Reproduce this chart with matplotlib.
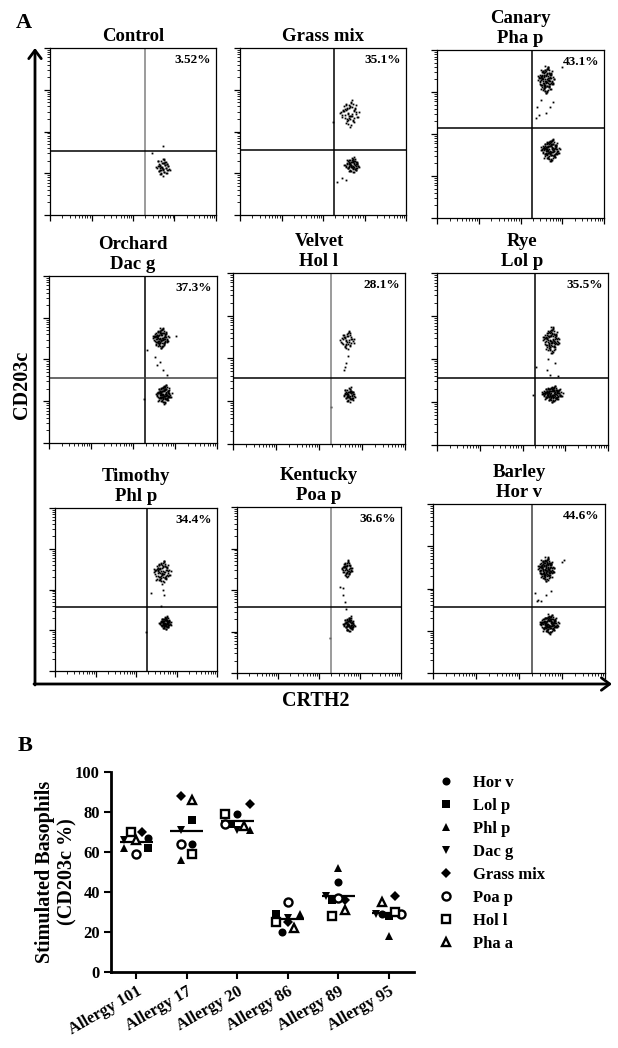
import numpy as np
import matplotlib
matplotlib.use("Agg")
import matplotlib.pyplot as plt
from matplotlib.lines import Line2D

plt.rcParams['font.family'] = ['Liberation Serif', 'DejaVu Serif']
plt.rcParams['font.weight'] = 'bold'
plt.rcParams['axes.labelweight'] = 'bold'
plt.rcParams['axes.titleweight'] = 'bold'

# ---- panel A: flow plots (axes in decades, 0..4) ----
panel_titles = ["Control", "Grass mix", "Canary\nPha p",
                "Orchard\nDac g", "Velvet\nHol l", "Rye\nLol p",
                "Timothy\nPhl p", "Kentucky\nPoa p", "Barley\nHor v"]
panel_pcts = ["3.52%", "35.1%", "43.1%", "37.3%", "28.1%", "35.5%",
              "34.4%", "36.6%", "44.6%"]
gate_x = [2.29, 2.27, 2.28, 2.29, 2.28, 2.29, 2.27, 2.29, 2.30]
gate_y = [1.53, 1.56, 2.14, 1.56, 1.54, 1.56, 1.57, 1.59, 1.56]

# CD203c-high cluster (centre, spread, number of events)
upper_cx = [2.70, 2.63, 2.61, 2.66, 2.65, 2.67, 2.64, 2.68, 2.63]
upper_cy = [2.50, 2.44, 3.29, 2.51, 2.43, 2.44, 2.43, 2.51, 2.46]
upper_sx = [0.10, 0.12, 0.10, 0.10, 0.09, 0.10, 0.11, 0.07, 0.10]
upper_sy = [0.10, 0.17, 0.17, 0.13, 0.12, 0.16, 0.15, 0.11, 0.15]
upper_n = [0, 55, 120, 100, 40, 100, 80, 50, 140]
# CD203c-low cluster
lower_cx = [2.72, 2.70, 2.71, 2.73, 2.70, 2.69, 2.72, 2.73, 2.70]
lower_cy = [1.15, 1.20, 1.62, 1.17, 1.15, 1.19, 1.18, 1.18, 1.16]
lower_sx = [0.10, 0.10, 0.12, 0.10, 0.08, 0.13, 0.08, 0.08, 0.12]
lower_sy = [0.13, 0.10, 0.14, 0.12, 0.10, 0.10, 0.09, 0.10, 0.12]
lower_n = [50, 70, 130, 110, 55, 130, 80, 70, 140]

# stray events
tail_x = [[2.72, 2.46],
          [2.34, 2.46, 2.24, 2.55],
          [2.40, 2.38, 2.61, 2.49, 2.78, 3.00, 2.71, 2.45],
          [2.57, 2.71, 2.81, 2.52, 2.33, 3.02, 2.26, 2.65],
          [2.63, 2.58, 2.60, 2.28, 2.68],
          [2.57, 2.64, 2.32, 2.83, 2.76, 2.25, 2.60],
          [2.69, 2.37, 2.62, 2.25, 2.66],
          [2.51, 2.58, 2.59, 2.63, 2.66, 2.27],
          [3.05, 3.00, 2.37, 2.42, 2.51, 2.63, 2.74, 2.45]]
tail_y = [[1.65, 1.49],
          [0.79, 0.89, 2.23, 0.85],
          [2.64, 2.38, 2.50, 2.81, 2.76, 3.60, 2.64, 2.45],
          [1.87, 1.75, 1.63, 2.06, 2.23, 2.56, 1.05, 1.95],
          [1.89, 1.73, 1.80, 0.87, 2.05],
          [1.74, 1.63, 1.81, 1.60, 1.90, 1.16, 2.00],
          [1.86, 1.91, 1.60, 0.96, 2.00],
          [2.07, 2.05, 1.88, 1.71, 1.54, 0.84],
          [2.67, 2.63, 1.89, 1.70, 1.70, 1.85, 1.93, 1.72]]

# hand-placed cloud shape used for every cluster
cloud_dx = np.array([
    0.12, -0.85, 1.31, -0.44, 0.67, -1.52, 0.29, 0.93, -0.18, -1.07,
    1.74, -0.62, 0.05, 0.48, -1.29, 0.81, -0.33, 1.12, -0.91, 0.36,
    -0.07, 1.46, -0.58, -1.83, 0.74, 0.21, -0.26, 1.03, -0.71, 0.57,
    -1.38, 0.15, 0.89, -0.49, 1.95, -0.12, -0.97, 0.42, 0.63, -0.23,
    1.22, -1.16, 0.31, -0.66, 0.09, 1.58, -0.38, -0.81, 0.77, -1.61,
    0.26, -0.02, 1.37, -0.53, 0.98, -1.24, 0.52, -0.15, 0.69, -0.88])
cloud_dy = np.array([
    -0.34, 0.58, 0.21, -1.12, 0.93, -0.27, 1.46, -0.64, 0.08, 1.03,
    -0.49, -1.38, 0.72, 1.84, 0.36, -0.95, -0.11, 0.61, -0.73, -1.67,
    1.21, -0.18, 0.44, 0.02, 1.35, -0.82, -1.51, 0.27, 1.09, -0.41,
    -0.59, 0.87, -1.23, 0.55, 0.14, -0.68, 0.31, 1.62, -0.07, -0.96,
    0.79, 0.48, -0.37, 1.28, -1.89, -0.53, 0.66, -0.22, -1.04, 0.19,
    0.98, -0.45, 1.17, -0.76, 0.39, -1.31, 0.04, 1.41, -0.86, 0.23])

# ---- panel B: stimulated basophils ----
donors = ["Allergy 101", "Allergy 17", "Allergy 20",
          "Allergy 86", "Allergy 89", "Allergy 95"]
allergens = ["Hor v", "Lol p", "Phl p", "Dac g", "Grass mix",
             "Poa p", "Hol l", "Pha a"]
hor_v = [67, 64, 79, 20, 45, 29]
lol_p = [62, 76, 74, 29, 36, 28]
phl_p = [62, 56, 71, 29, 52, 18]
dac_g = [66, 71, 71, 27, 38, 29]
grass_mix = [70, 88, 84, 25, 36, 38]
poa_p = [59, 64, 74, 35, 37, 29]
hol_l = [70, 59, 79, 25, 28, 30]
pha_a = [66, 86, 73, 22, 31, 35]
# horizontal scatter of each symbol within its donor column
hor_v_dx = [0.24, 0.11, 0.00, -0.11, 0.00, -0.13]
lol_p_dx = [0.24, 0.11, -0.12, -0.24, -0.13, 0.00]
phl_p_dx = [-0.24, -0.12, 0.26, 0.25, 0.00, 0.00]
dac_g_dx = [-0.24, -0.12, 0.00, 0.00, -0.24, -0.26]
grass_mix_dx = [0.12, -0.12, 0.26, 0.00, 0.13, 0.12]
poa_p_dx = [0.00, -0.12, -0.24, 0.00, 0.00, 0.25]
hol_l_dx = [-0.10, 0.11, -0.24, -0.24, -0.13, 0.12]
pha_a_dx = [0.00, 0.11, 0.13, 0.12, 0.13, -0.13]

W, H = 618, 1048
fig = plt.figure(figsize=(W / 100, H / 100), dpi=100)


def px_axes(l, t, r, b):
    return fig.add_axes([l / W, 1 - b / H, (r - l) / W, (b - t) / H])


bg = fig.add_axes([0, 0, 1, 1], zorder=-1)
bg.set_xlim(0, W)
bg.set_ylim(H, 0)
bg.axis('off')

boxes = [(50, 48, 216, 215), (240, 48, 406, 215), (437, 50, 604, 218),
         (49, 276, 217, 443), (233, 273, 405, 444), (437, 273, 608, 445),
         (55, 508, 217, 671), (237, 507, 401, 673), (433, 504, 605, 673)]
vcol = ['#808080', 'k', 'k', 'k', '#808080', 'k', 'k', '#808080', '#404040']
hcol = ['k', 'k', 'k', '#404040', 'k', 'k', 'k', 'k', 'k']

ox = np.concatenate([cloud_dx, -cloud_dy, 0.85 * cloud_dy])
oy = np.concatenate([cloud_dy, cloud_dx, -0.85 * cloud_dx])
ox2, oy2 = np.roll(ox, 37), np.roll(oy, 37)

major = np.arange(5)
minor = [d + np.log10(k) for d in range(4) for k in range(2, 10)]

for i, (l, t, r, b) in enumerate(boxes):
    ax = px_axes(l, t, r, b)
    nu, nl = upper_n[i], lower_n[i]
    xs = np.concatenate([upper_cx[i] + upper_sx[i] * ox[:nu],
                         lower_cx[i] + lower_sx[i] * ox2[:nl],
                         tail_x[i]])
    ys = np.concatenate([upper_cy[i] + upper_sy[i] * oy[:nu],
                         lower_cy[i] + lower_sy[i] * oy2[:nl],
                         tail_y[i]])
    ax.plot(xs, ys, 's', ms=1.3, mew=0, color='k')
    ax.axvline(gate_x[i], color=vcol[i], lw=1.1)
    ax.axhline(gate_y[i], color=hcol[i], lw=1.1)
    ax.set_xlim(0, 4)
    ax.set_ylim(0, 4)
    ax.set_xticks(major)
    ax.set_yticks(major)
    ax.set_xticks(minor, minor=True)
    ax.set_yticks(minor, minor=True)
    ax.tick_params(labelbottom=False, labelleft=False, direction='out')
    ax.tick_params(which='major', length=4, width=0.9)
    ax.tick_params(which='minor', length=2, width=0.6)
    for s in ax.spines.values():
        s.set_linewidth(0.9)
    ax.set_title(panel_titles[i], fontsize=13.5, pad=5)
    ax.text(0.97, 0.965, panel_pcts[i], transform=ax.transAxes,
            ha='right', va='top', fontsize=9.5)

arr = dict(arrowstyle='->,head_length=0.6,head_width=0.45', lw=2,
           color='k', shrinkA=0, shrinkB=0)
bg.annotate('', xy=(35, 48), xytext=(35, 685), arrowprops=arr)
bg.annotate('', xy=(612, 684), xytext=(34, 684), arrowprops=arr)
bg.text(22, 385, "CD203c", rotation=90, ha='center', va='center', fontsize=14.5)
bg.text(316, 701, "CRTH2", ha='center', va='center', fontsize=14.5)
bg.text(16, 23, "A", ha='left', va='center', fontsize=16)
bg.text(18, 746, "B", ha='left', va='center', fontsize=16)

# ---- panel B ----
axb = px_axes(111, 772, 414, 972)
series = [hor_v, lol_p, phl_p, dac_g, grass_mix, poa_p, hol_l, pha_a]
offsets = [hor_v_dx, lol_p_dx, phl_p_dx, dac_g_dx, grass_mix_dx,
           poa_p_dx, hol_l_dx, pha_a_dx]
markers = ['o', 's', '^', 'v', 'D', 'o', 's', '^']
filled = [True, True, True, True, True, False, False, False]
fsize = {'o': 5.8, 's': 5.4, '^': 6.2, 'v': 6.2, 'D': 5.2}

pos = np.arange(len(donors))
means = np.mean(np.array(series), axis=0)
axb.hlines(means, pos - 0.33, pos + 0.33, color='k', lw=1.6, zorder=2)

handles = []
for vals, dx, m, f, name in zip(series, offsets, markers, filled, allergens):
    if f:
        kw = dict(marker=m, ms=fsize[m], color='k', mew=0)
    else:
        kw = dict(marker=m, ms=5.8, mfc='white', mec='k', mew=1.7)
    axb.plot(pos + np.array(dx), vals, ls='none', zorder=3, **kw)
    handles.append(Line2D([], [], ls='none', label=name, **kw))

axb.set_xlim(-0.5, 5.5)
axb.set_ylim(0, 100)
axb.set_yticks(np.arange(0, 101, 20))
axb.set_xticks(pos)
axb.set_xticklabels(donors, fontsize=12)
plt.setp(axb.get_xticklabels(), rotation=30, ha='right',
         rotation_mode='anchor')
axb.tick_params(axis='y', labelsize=12, width=1.5, length=5, pad=3)
axb.tick_params(axis='x', width=1.5, length=5, pad=3)
for s in ['top', 'right']:
    axb.spines[s].set_visible(False)
for s in ['left', 'bottom']:
    axb.spines[s].set_linewidth(2)
axb.set_ylabel("Stimulated Basophils\n(CD203c %)", fontsize=14.5,
               va='center', linespacing=1.2)
axb.yaxis.set_label_coords(-0.18, 0.5)

axb.legend(handles=handles, loc='upper left',
           bbox_to_anchor=(439 / W, 1 - 775 / H),
           bbox_transform=fig.transFigure, frameon=False, fontsize=12,
           handlelength=0.8, handletextpad=1.22, labelspacing=0.42,
           borderpad=0, borderaxespad=0, numpoints=1)

fig.savefig("out.png", dpi=100)
